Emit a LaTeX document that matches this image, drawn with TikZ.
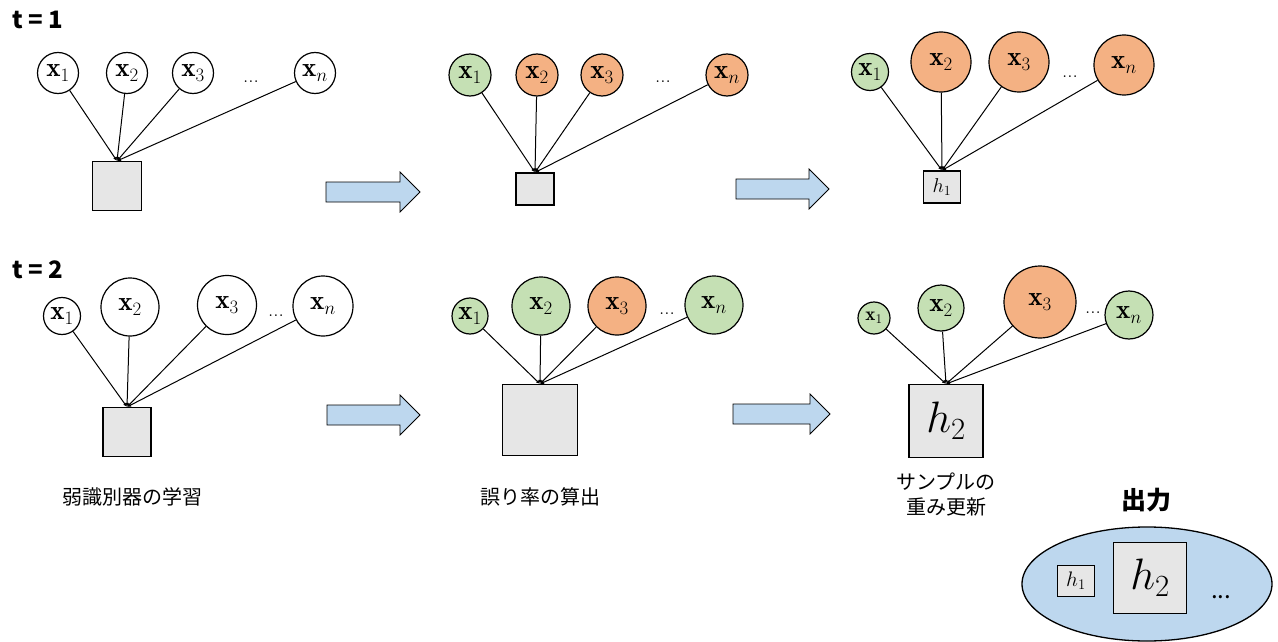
\RequirePackage{fix-cm}
\documentclass[tikz,border=0pt]{standalone}
\usepackage{fontspec}
\newfontfamily\jp{Noto Sans CJK JP}
\usetikzlibrary{shapes.geometric,arrows.meta}

\definecolor{grn}{HTML}{C5E0B4}
\definecolor{org}{HTML}{F4B183}
\definecolor{blu}{HTML}{BDD7EE}
\definecolor{gry}{HTML}{E6E6E6}

\tikzset{
  samp/.style={circle, draw, line width=1.2pt, inner sep=0pt, fill=white,
    font=\fontsize{27}{30}\selectfont},
  wbox/.style={draw, fill=gry, line width=1.1pt, inner sep=0pt,
    font=\fontsize{20}{22}\selectfont},
  bigh/.style={font=\fontsize{44}{46}\selectfont},
  link/.style={line width=1pt, -{Latex[length=4pt,width=3.5pt]}},
  dotsl/.style={font=\fontsize{21}{22}\selectfont, inner sep=0pt},
  stagelabel/.style={font=\jp\bfseries\fontsize{24}{26}\selectfont, anchor=west, inner sep=0pt},
  caption/.style={font=\jp\fontsize{20}{25}\selectfont, align=center, inner sep=0pt},
  flowarrow/.style={draw, fill=blu, line width=0.8pt},
}

% block arrow pointing right, starting at coordinate #1 (left end, centre line)
\newcommand{\blockarrow}[2]{%
  \draw[flowarrow] (#1) ++(0,-10) -- ++(#2-20,0) -- ++(0,-10) -- ++(20,20)
    -- ++(-20,20) -- ++(0,-10) -- ++(-#2+20,0) -- cycle;}

\begin{document}
\begin{tikzpicture}[x=1pt, y=-1pt]
\useasboundingbox (0,0) rectangle (1278,642);

% ---------- t = 1 ----------
\node[stagelabel] (t1) at (12,20) {t = 1};

% learning step
\node[samp, minimum size=41] (a1) at (58,73) {$\mathbf{x}_1$};
\node[samp, minimum size=41] (a2) at (127,73) {$\mathbf{x}_2$};
\node[samp, minimum size=41] (a3) at (193,73) {$\mathbf{x}_3$};
\node[dotsl] (ad) at (251,82) {...};
\node[samp, minimum size=41] (an) at (315,73) {$\mathbf{x}_n$};
\node[wbox, minimum width=49, minimum height=49] (ab) at (117,186) {};
\foreach \s in {a1,a2,a3,an} \draw[link] (\s) -- (ab.north);

% error step
\node[samp, fill=grn, minimum size=42] (b1) at (470,75) {$\mathbf{x}_1$};
\node[samp, fill=org, minimum size=42] (b2) at (537,75) {$\mathbf{x}_2$};
\node[samp, fill=org, minimum size=42] (b3) at (602,75) {$\mathbf{x}_3$};
\node[dotsl] (bd) at (663,82) {...};
\node[samp, fill=org, minimum size=42] (bn) at (727,75) {$\mathbf{x}_n$};
\node[wbox, minimum width=38, minimum height=32] (bb) at (535,189) {};
\foreach \s in {b1,b2,b3,bn} \draw[link] (\s) -- (bb.north);

% weight update step
\node[samp, fill=grn, minimum size=37] (c1) at (870,72) {$\mathbf{x}_1$};
\node[samp, fill=org, minimum size=60] (c2) at (941,62) {$\mathbf{x}_2$};
\node[samp, fill=org, minimum size=60] (c3) at (1019,62) {$\mathbf{x}_3$};
\node[dotsl] (cd) at (1070,77) {...};
\node[samp, fill=org, minimum size=60] (cn) at (1124,65) {$\mathbf{x}_n$};
\node[wbox, minimum width=37, minimum height=32] (cb) at (942,187) {$h_1$};
\foreach \s in {c1,c2,c3,cn} \draw[link] (\s) -- (cb.north);

\coordinate (f1) at (326,192);
\coordinate (f2) at (736,189);
\blockarrow{f1}{94}
\blockarrow{f2}{93}

% ---------- t = 2 ----------
\node[stagelabel] (t2) at (12,270) {t = 2};

\node[samp, minimum size=37] (d1) at (62,316) {$\mathbf{x}_1$};
\node[samp, minimum size=58] (d2) at (130,307) {$\mathbf{x}_2$};
\node[samp, minimum size=59] (d3) at (227,305) {$\mathbf{x}_3$};
\node[dotsl] (dd) at (276,316) {...};
\node[samp, minimum size=60] (dn) at (323,306) {$\mathbf{x}_n$};
\node[wbox, minimum width=48, minimum height=49] (db) at (127,432) {};
\foreach \s in {d1,d2,d3,dn} \draw[link] (\s) -- (db.north);

\node[samp, fill=grn, minimum size=36] (e1) at (470,316) {$\mathbf{x}_1$};
\node[samp, fill=grn, minimum size=58] (e2) at (541,306) {$\mathbf{x}_2$};
\node[samp, fill=org, minimum size=58] (e3) at (617,306) {$\mathbf{x}_3$};
\node[dotsl] (ed) at (667,314) {...};
\node[samp, fill=grn, minimum size=58] (en) at (714,305) {$\mathbf{x}_n$};
\node[wbox, minimum width=75, minimum height=71] (eb) at (540,420) {};
\foreach \s in {e1,e2,e3,en} \draw[link] (\s) -- (eb.north);

\node[samp, fill=grn, minimum size=32, font=\fontsize{19}{21}\selectfont] (g1) at (874,318) {$\mathbf{x}_1$};
\node[samp, fill=grn, minimum size=46] (g2) at (941,308) {$\mathbf{x}_2$};
\node[samp, fill=org, minimum size=72] (g3) at (1040,302) {$\mathbf{x}_3$};
\node[dotsl] (gd) at (1093,313) {...};
\node[samp, fill=grn, minimum size=48] (gn) at (1129,315) {$\mathbf{x}_n$};
\node[wbox, bigh, minimum width=74, minimum height=73] (gb) at (946,421) {$h_2$};
\foreach \s in {g1,g2,g3,gn} \draw[link] (\s) -- (gb.north);

\coordinate (f3) at (327,415);
\coordinate (f4) at (733,414);
\blockarrow{f3}{93}
\blockarrow{f4}{97}

% step captions
\node[caption] (l1) at (132,497) {弱識別器の学習};
\node[caption] (l2) at (540,497) {誤り率の算出};
\node[caption] (l3) at (946,495) {サンプルの\\重み更新};

% ---------- output ensemble ----------
\node[font=\jp\bfseries\fontsize{25}{27}\selectfont, inner sep=0pt] (outl) at (1146,500) {出力};
\node[ellipse, draw, fill=blu, line width=1.3pt, minimum width=250, minimum height=114, inner sep=0pt] (ens) at (1147,584) {};
\node[wbox, minimum width=37, minimum height=31, font=\fontsize{21}{23}\selectfont] (o1) at (1076,581) {$h_1$};
\node[wbox, bigh, minimum width=73, minimum height=71] (o2) at (1150,578) {$h_2$};
\node[dotsl, font=\jp\fontsize{24}{26}\selectfont] (od) at (1221,597) {...};

\end{tikzpicture}
\end{document}
